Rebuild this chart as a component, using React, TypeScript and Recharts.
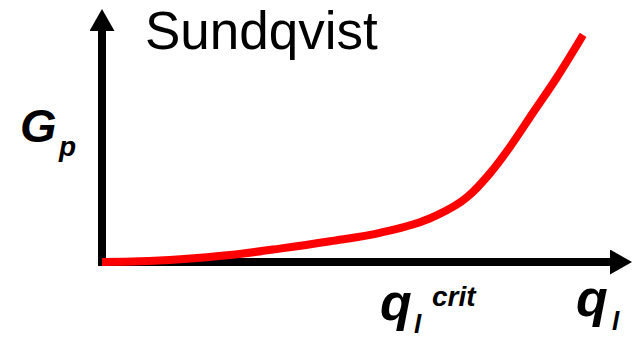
import { LineChart, Line, XAxis, YAxis, ReferenceLine } from 'recharts'

// curve (x: along q_l, y: G_p, both 0..100)
const qlValues = [0, 7.5, 15.4, 25.2, 35, 44.9, 54.7, 65.2, 71.9, 76.4, 80.3, 84.8, 89.6, 94.7]
const gpValues = [0, 0.3, 1.2, 3.0, 5.8, 9.0, 12.6, 19.5, 28.1, 38.5, 49.8, 64.5, 80.1, 98.3]

const title = 'Sundqvist'
const yLabel = { main: 'G', sub: 'p' }
const xLabel = { main: 'q', sub: 'l' }
const critLabel = { main: 'q', sub: 'l', sup: 'crit' }

const data = qlValues.map((x, i) => ({ x, y: gpValues[i] }))

const font = '"Liberation Sans", Arial, sans-serif'

const App = () => {
  return (
    <div style={{ position: 'absolute', left: 0, top: 0, background: '#fff' }}>
      <LineChart
        width={636}
        height={338}
        data={data}
        margin={{ top: 31, right: 26, left: 102, bottom: 76 }}
      >
        <defs>
          <marker
            id='arrowHead'
            markerUnits='userSpaceOnUse'
            markerWidth={22}
            markerHeight={25}
            refX={0}
            refY={12.5}
            orient='auto'
          >
            <path d='M0,0 L22,12.5 L0,25 Z' fill='#000' />
          </marker>
        </defs>
        <XAxis type='number' dataKey='x' domain={[0, 100]} hide />
        <YAxis type='number' domain={[0, 100]} hide />
        <ReferenceLine
          segment={[{ x: 0, y: 0 }, { x: 100, y: 0 }]}
          stroke='#000'
          strokeWidth={8}
          strokeLinecap='square'
          markerEnd='url(#arrowHead)'
          ifOverflow='visible'
        />
        <ReferenceLine
          segment={[{ x: 0, y: 0 }, { x: 0, y: 100 }]}
          stroke='#000'
          strokeWidth={8}
          strokeLinecap='square'
          markerEnd='url(#arrowHead)'
          ifOverflow='visible'
        />
        <Line
          type='monotone'
          dataKey='y'
          stroke='#ff0000'
          strokeWidth={8}
          dot={false}
          isAnimationActive={false}
        />
        <text x={145} y={49} fontFamily={font} fontSize={53} fill='#000'>
          {title}
        </text>
        <g fontFamily={font} fontWeight='bold' fontStyle='italic' fill='#000'>
          <text x={20} y={142} fontSize={47}>
            {yLabel.main}
          </text>
          <text x={59} y={156} fontSize={28}>
            {yLabel.sub}
          </text>
          <text x={380} y={320} fontSize={52}>
            {critLabel.main}
          </text>
          <text x={414} y={333} fontSize={26}>
            {critLabel.sub}
          </text>
          <text x={432} y={306} fontSize={28}>
            {critLabel.sup}
          </text>
          <text x={576} y={316} fontSize={52}>
            {xLabel.main}
          </text>
          <text x={612} y={330} fontSize={26}>
            {xLabel.sub}
          </text>
        </g>
      </LineChart>
    </div>
  )
}

export default App
